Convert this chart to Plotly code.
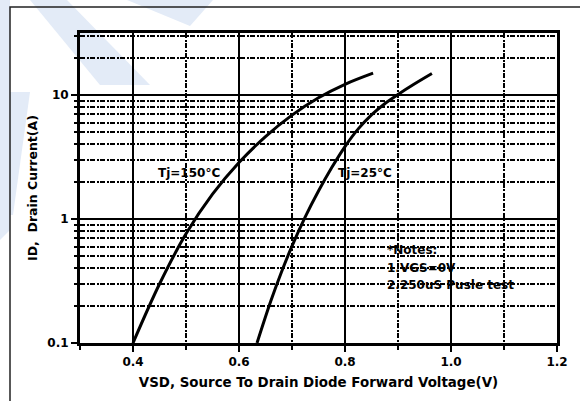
import plotly.graph_objects as go

# ---- data ----
vsd_150 = [0.40, 0.45, 0.50, 0.55, 0.60, 0.65, 0.70, 0.75, 0.80, 0.853]
id_150 = [0.10, 0.299, 0.759, 1.585, 2.85, 4.62, 6.88, 9.50, 12.2, 15.0]

vsd_25 = [0.634, 0.66, 0.68, 0.70, 0.725, 0.75, 0.775, 0.80, 0.825, 0.85, 0.875, 0.90, 0.93, 0.964]
id_25 = [0.10, 0.218, 0.372, 0.605, 1.04, 1.68, 2.60, 3.84, 5.33, 6.92, 8.51, 10.1, 12.2, 14.9]

y_tickvals = [0.1, 1, 10]
y_ticktext = ["0.1", "1", "10"]
x_tickvals = [0.4, 0.6, 0.8, 1.0, 1.2]
x_ticktext = ["0.4", "0.6", "0.8", "1.0", "1.2"]

W, H = 580, 401
ML, MR, MT, MB = 80, 23, 33, 58
PW, PH = W - ML - MR, H - MT - MB


def px(x):
    return (x - ML) / PW


def py(y):
    return (H - MB - y) / PH


FONT = "DejaVu Sans, sans-serif"

fig = go.Figure()
for xs, ys in ((vsd_150, id_150), (vsd_25, id_25)):
    fig.add_trace(go.Scatter(x=xs, y=ys, mode="lines",
                             line=dict(color="black", width=3, shape="spline", smoothing=1),
                             showlegend=False, hoverinfo="skip"))

# watermark + frame (decorative, paper coordinates)
wm = "#e3ebf7"


def poly(pts):
    d = "M " + " L ".join(f"{px(a):.4f},{py(b):.4f}" for a, b in pts) + " Z"
    return dict(type="path", xref="paper", yref="paper", path=d,
                fillcolor=wm, line=dict(width=0), layer="below")


shapes = [
    poly([(0, 0), (10, 0), (10, 230), (0, 240)]),
    poly([(10, 92), (30, 92), (13, 215), (10, 215)]),
    poly([(30, 0), (67, 0), (150, 85), (100, 85)]),
    poly([(127, 0), (213, 0), (190, 26)]),
    dict(type="rect", xref="paper", yref="paper",
         x0=px(10), x1=px(620), y0=py(7), y1=py(440),
         line=dict(color="#222222", width=1.5), fillcolor="rgba(0,0,0,0)", layer="below"),
]

tfont = dict(family=FONT, size=12, color="black")
annotations = [
    dict(x=0.506, y=0.371, xref="x", yref="y", text="<b>Tj=150°C</b>", showarrow=False, font=tfont),
    dict(x=0.838, y=0.371, xref="x", yref="y", text="<b>Tj=25°C</b>", showarrow=False, font=tfont),
    dict(x=0.876, y=-0.25, xref="x", yref="y", text="<b>*Notes:</b>", showarrow=False,
         font=tfont, xanchor="left"),
    dict(x=0.876, y=-0.395, xref="x", yref="y", text="<b>1.VGS=0V</b>", showarrow=False,
         font=tfont, xanchor="left"),
    dict(x=0.876, y=-0.535, xref="x", yref="y", text="<b>2.250uS Pusle test</b>", showarrow=False,
         font=tfont, xanchor="left"),
]

fig.update_layout(
    width=W, height=H,
    margin=dict(l=ML, r=MR, t=MT, b=MB, autoexpand=False),
    paper_bgcolor="white", plot_bgcolor="white",
    shapes=shapes, annotations=annotations,
    font=dict(family=FONT, color="black"),
)

fig.update_xaxes(
    range=[0.3, 1.2], tickvals=x_tickvals, ticktext=[f"<b>{t}</b>" for t in x_ticktext],
    tickfont=dict(family=FONT, size=12, color="black"),
    showline=True, linecolor="black", linewidth=3, mirror=True,
    ticks="outside", ticklen=6, tickwidth=2, tickcolor="black",
    showgrid=True, gridcolor="black", gridwidth=2.2,
    minor=dict(dtick=0.1, tick0=0.3, showgrid=True, gridcolor="black", gridwidth=1.5,
               griddash="5px,1.5px,2px,1.5px", ticks="outside", ticklen=4, tickcolor="black", tickwidth=1.5),
    zeroline=False,
    title=dict(text="<b>VSD, Source To Drain Diode Forward Voltage(V)</b>",
               font=dict(family=FONT, size=13.4, color="black"), standoff=10),
    automargin=False,
)

fig.update_yaxes(
    type="log", range=[-1, 1.5], tickvals=y_tickvals, ticktext=[f"<b>{t}</b>" for t in y_ticktext],
    tickfont=dict(family=FONT, size=12, color="black"),
    showline=True, linecolor="black", linewidth=3, mirror=True,
    ticks="outside", ticklen=6, tickwidth=2, tickcolor="black",
    showgrid=True, gridcolor="black", gridwidth=2,
    minor=dict(dtick="D1", showgrid=True, gridcolor="black", gridwidth=1.5,
               griddash="5px,1.5px,2px,1.5px", ticks="outside", ticklen=3, tickcolor="black", tickwidth=1.5),
    zeroline=False,
    title=dict(text="<b>ID,  Drain Current(A)</b>",
               font=dict(family=FONT, size=12.5, color="black"), standoff=7),
    automargin=False,
)

fig.write_html("out.html", config={"displayModeBar": False},
               post_script="document.body.style.margin='0px';document.body.style.padding='0px';")
